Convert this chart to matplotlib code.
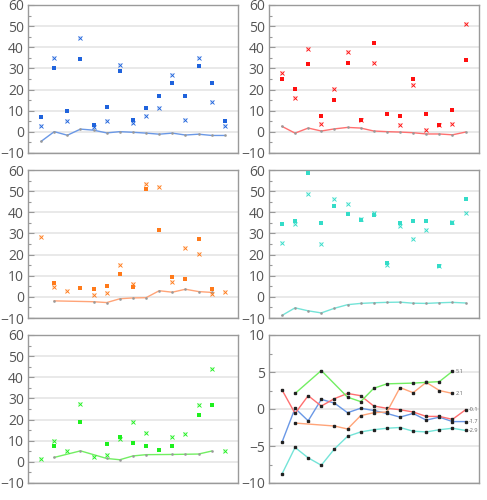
import numpy as np
import matplotlib
matplotlib.use("Agg")
import matplotlib.pyplot as plt
from matplotlib.ticker import MultipleLocator

plt.rcParams["font.family"] = ["Open Sans", "DejaVu Sans"]

N = None
positions = list(range(1, 16))

# blue
blue_sq = [7.1, 30.0, 10.0, 34.4, 3.3, 11.7, 28.8, 5.8, 11.2, 17.1, 23.1, 17.1, 31.3, 22.9, 5.2]
blue_x = [2.7, 34.8, 4.9, 44.4, 2.2, 5.1, 31.8, 4.4, 7.7, 11.4, 27.0, 5.8, 34.8, 14.1, 3.0]
blue_line = [-4.5, 0.1, -1.6, 1.3, 0.8, -0.5, 0.1, -0.2, -0.6, -1.1, -0.6, -1.5, -1.1, -1.7, -1.7]

# red
red_sq = [24.8, 20.3, 32.2, 7.5, 15.2, 32.5, 5.8, 41.8, 8.3, 7.5, 24.8, 8.5, 3.4, 10.4, 34.2]
red_x = [27.8, 16.2, 39.2, 3.8, 20.5, 37.9, 5.6, 32.6, N, 3.4, 22.1, 0.8, 3.4, 3.8, 51.0]
red_line = [2.6, -0.6, 1.8, 0.4, 1.4, 2.1, 1.8, 0.4, 0.1, -0.1, -0.4, -1.0, -1.0, -1.4, -0.1]

# orange
orange_sq = [N, 6.5, N, 4.1, 3.8, 5.1, 10.6, 4.6, 51.0, 31.4, 9.3, 8.4, 27.2, 3.5, N]
orange_x = [28.1, 4.6, 2.7, N, 1.1, 1.7, 15.2, 6.0, 53.2, 51.8, 6.8, 23.1, 20.2, 1.4, 2.1]
orange_line = [N, -1.9, N, N, -2.3, -2.7, -0.9, -0.5, -0.4, 2.9, 2.2, 3.6, 2.5, 2.1, N]

# cyan
cyan_sq = [34.3, 36.0, 58.5, 35.1, 43.1, 39.3, 36.2, 38.9, 16.1, 34.8, 35.9, 36.0, 14.7, 35.1, 46.4]
cyan_x = [25.4, 34.3, 48.8, 24.8, 46.3, 43.8, 36.8, 39.5, 15.0, 33.5, 27.6, 31.8, 14.7, 35.6, 39.7]
cyan_line = [-8.8, -5.2, -6.6, -7.6, -5.4, -3.7, -3.1, -2.8, -2.6, -2.5, -3.0, -3.1, -2.8, -2.6, -2.9]

# green
green_sq = [N, 7.6, N, 19.0, N, 8.4, 11.9, 8.9, 7.3, 5.6, 7.3, N, 22.1, 26.9, N]
green_x = [1.3, 9.8, 5.0, 27.4, 2.4, 3.2, 11.0, 19.0, 13.6, N, 11.7, 13.3, 26.9, 43.8, 4.9]
green_line = [N, 2.1, N, 5.2, N, 1.6, 1.0, 2.8, 3.4, N, 3.5, 3.6, 3.7, 5.1, N]

series = [
    ("#1f63dc", "#6a98e6", blue_sq, blue_x, blue_line),
    ("#ff1010", "#ff7070", red_sq, red_x, red_line),
    ("#ff7a1a", "#ffa478", orange_sq, orange_x, orange_line),
    ("#34dcc8", "#74e4d8", cyan_sq, cyan_x, cyan_line),
    ("#1ef01e", "#72ee62", green_sq, green_x, green_line),
]


def pick(vals):
    xs = [p for p, v in zip(positions, vals) if v is not None]
    ys = [v for v in vals if v is not None]
    return xs, ys


def style_axis(ax, lo, hi, major, minor):
    ax.set_xlim(0, 16)
    ax.set_ylim(lo, hi)
    ax.yaxis.set_major_locator(MultipleLocator(major))
    ax.yaxis.set_minor_locator(MultipleLocator(minor))
    ax.set_xticks([])
    ax.grid(axis="y", which="major", color="#e9e9e9", linewidth=1.4, zorder=0)
    ax.set_axisbelow(True)
    ax.tick_params(axis="y", which="major", direction="in", length=4, width=0.8,
                   color="#999999", labelsize=10, labelcolor="#555555", pad=3)
    ax.tick_params(axis="y", which="minor", direction="in", length=2, width=0.8, color="#999999")
    for s in ax.spines.values():
        s.set_color("#9a9a9a")
        s.set_linewidth(1.0)
    ax.set_yticks(ax.get_yticks())
    ax.set_yticklabels([f"{int(t)}".replace("-", "\u2212") for t in ax.get_yticks()])
    ax.set_ylim(lo, hi)


fig = plt.figure(figsize=(4.87, 5.0), dpi=100)
lefts = [0.0575, 0.552]
bottoms = [0.694, 0.364, 0.034]
w, h = 0.431, 0.296

for i, (mc, lc, sq, xx, ln) in enumerate(series):
    ax = fig.add_axes([lefts[i % 2], bottoms[i // 2], w, h])
    px, py = pick(ln)
    ax.plot(px, py, color=lc, linewidth=1.0, zorder=2)
    ax.plot(px, py, linestyle="none", marker="s", markersize=0.8, color="#999999", zorder=2)
    px, py = pick(xx)
    ax.plot(px, py, linestyle="none", marker="s", markersize=3.2, color=mc, alpha=0.18,
            markeredgewidth=0, zorder=3)
    ax.plot(px, py, linestyle="none", marker="x", markersize=2.4, color=mc,
            markeredgewidth=0.6, zorder=4)
    px, py = pick(sq)
    ax.plot(px, py, linestyle="none", marker="s", markersize=2.6, color=mc,
            markeredgewidth=0, zorder=5)
    style_axis(ax, -10, 60, 10, 5)

# summary panel
ax = fig.add_axes([lefts[1], bottoms[2], w, h])
for mc, lc, sq, xx, ln in series:
    px, py = pick(ln)
    ax.plot(px, py, color=lc, linewidth=1.0, marker="s", markersize=1.5,
            markerfacecolor="#222222", markeredgecolor="#222222", zorder=3)
    ax.annotate(f"{py[-1]:.1f}", (px[-1], py[-1]), xytext=(2.5, 0), textcoords="offset points",
                fontsize=4, color="#666666", va="center")
style_axis(ax, -10, 10, 5, 2.5)

fig.savefig("out.png", dpi=100)
